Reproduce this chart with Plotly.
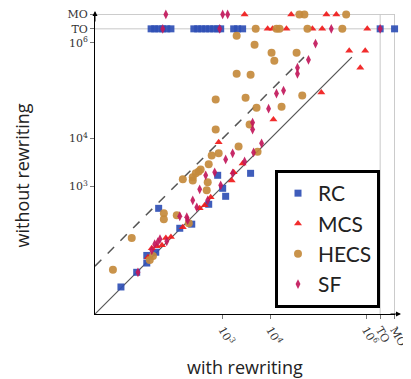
import plotly.graph_objects as go

TO = 1.95e6
MO = 3.9e6

# RC
rc_x = [32, 38, 46, 56, 68, 83, 250, 301, 365, 442, 536, 650, 787, 909, 1700, 2050, 2610, TO, MO,
        787, 3830, 1000, 1155, 511, 46, 127, 226, 40, 26, 26, 16, 7.5]
rc_y = [TO, TO, TO, TO, TO, TO, TO, TO, TO, TO, TO, TO, TO, TO, TO, TO, TO, TO, TO,
        1700, 1870, 909, 619, 422, 347, 133, 162, 42, 36, 25, 16, 7.9]

# MCS
mcs_x = [2870, 2.7e4, 1.47e5, 2.37e5,
         8.7e3, 1.1e4, 2.15e4, 7.5e4, 1.2e5, 1.05e6,
         4.4e5, 9.5e5, 7.5e5, 1.15e5, 1.15e4, 825, 2610, 1695, 1540, 562, 331, 422,
         147, 83, 65, 33, 42, 54, 27.5]
mcs_y = [MO, MO, MO, MO,
         TO, TO, TO, TO, TO, TO,
         6.8e5, 6.8e5, 3.0e5, 9.1e4, 2.5e4, 8.3e3, 3.0e3, 1.96e3, 1.33e3, 590, 347, 402,
         140, 87, 83, 51, 56, 59, 33]

# HECS
hecs_x = [4.0e4, 5.1e4, 3.8e5,
          4.9e3, 1.33e4, 1.54e4, 5.9e4, 3.16e5,
          1960, 4640, 1.05e4, 3.5e4, 1.2e4, 1960, 3830, 715, 3010, 4.6e4, 5100, 1.7e4,
          3650, 715, 2150, 825, 590, 5360, 511, 347, 316, 274, 237, 237, 147, 487, 464,
          59, 59, 110, 196, 12.6, 35, 30, 5.1]
hecs_y = [MO, MO, MO,
          TO, TO, TO, TO, TO,
          1.4e6, 9.1e5, 6.2e5, 6.2e5, 4.2e5, 2.25e5, 2.15e5, 6.5e4, 7.1e4, 7.9e4, 4.4e4, 4.6e4,
          1.96e4, 1.54e4, 6.8e3, 4.9e3, 4.4e3, 5.3e3, 2.9e3, 2.26e3, 2.05e3, 1.87e3, 1.54e3, 1.33e3, 1.4e3, 1.21e3, 825,
          274, 205, 249, 170, 83, 35, 29, 18]

# SF
sf_x = [65, 1000, 1270,
        56, 866, 1.86e5, TO,
        8.7e4, 6.2e4, 3.65e4, 3.65e4, 1.87e4, 1.33e4, 9100, 4220, 4220, 6500, 1615, 4420,
        1155, 2870, 681, 442, 1615, 909, 331, 237, 487, 288, 127, 178, 185, 68, 49, 44, 38, 33, 17]
sf_y = [MO, MO, MO,
        TO, TO, TO, TO,
        9.6e5, 4.4e5, 3.0e5, 2.25e5, 1.0e5, 8.7e4, 4.2e4, 2.15e4, 1.54e4, 7.9e3, 4.9e3, 5.1e3,
        3.65e3, 3.3e3, 1.96e3, 1.7e3, 1.87e3, 1.05e3, 866, 511, 511, 365, 237, 226, 196, 71, 79, 68, 62, 46, 16]

diag_x = [2.15, 5.0e5]
dash_x = [2.15, 5.0e4]
dash_factor = 10

tick_vals = [1e3, 1e4, 1e6, TO, MO]
tick_text = ["10<sup>3</sup>", "10<sup>4</sup>", "10<sup>6</sup>", "TO", "MO"]

LO, HI = 0.333, 6.6

fig = go.Figure()

fig.add_trace(go.Scatter(x=diag_x, y=diag_x, mode="lines",
                         line=dict(color="#555555", width=1.2), showlegend=False, hoverinfo="skip"))
fig.add_trace(go.Scatter(x=dash_x, y=[v * dash_factor for v in dash_x], mode="lines",
                         line=dict(color="#555555", width=1.5, dash="dash"), showlegend=False, hoverinfo="skip"))

series = [
    ("RC", rc_x, rc_y, "square", "#2f4fb5", 7),
    ("MCS", mcs_x, mcs_y, "triangle-up", "#f01a1a", 7),
    ("HECS", hecs_x, hecs_y, "circle", "#c48a3c", 8),
    ("SF", sf_x, sf_y, "diamond-tall", "#c2185b", 7),
]
for name, xs, ys, sym, col, sz in series:
    fig.add_trace(go.Scatter(x=xs, y=ys, mode="markers", name=name, cliponaxis=False,
                             marker=dict(symbol=sym, color=col, size=sz, opacity=0.92,
                                         line=dict(width=0))))

grey = "#c8c8c8"
shapes = [
    dict(type="line", xref="paper", yref="y", x0=0, x1=1, y0=TO, y1=TO, line=dict(color=grey, width=1), layer="below"),
    dict(type="line", xref="paper", yref="y", x0=0, x1=1, y0=MO, y1=MO, line=dict(color=grey, width=1), layer="below"),
    dict(type="line", xref="x", yref="paper", x0=TO, x1=TO, y0=0, y1=1, line=dict(color=grey, width=1), layer="below"),
    dict(type="line", xref="x", yref="paper", x0=MO, x1=MO, y0=0, y1=1, line=dict(color=grey, width=1), layer="below"),
]

axis_common = dict(type="log", range=[LO, HI], tickvals=tick_vals, ticktext=tick_text,
                   showgrid=False, zeroline=False, showline=True, linecolor="black", linewidth=1,
                   ticks="outside", ticklen=4, tickcolor="#777777", automargin=False,
                   tickfont=dict(family="DejaVu Serif", size=11, color="#333333"))

title_font = dict(family="Open Sans", size=18, color="#222222")

fig.update_layout(
    width=403, height=371,
    margin=dict(l=87, r=16, t=6, b=65),
    paper_bgcolor="white", plot_bgcolor="white",
    shapes=shapes,
    xaxis=dict(**axis_common, tickangle=60),
    yaxis=dict(**axis_common),
    legend=dict(x=0.95, y=0.02, xanchor="right", yanchor="bottom",
                bordercolor="black", borderwidth=3, bgcolor="white",
                font=dict(family="Lato", size=21, color="#222222"),
                itemsizing="trace"),
    annotations=[
        dict(xref="paper", yref="paper", x=1.02, y=0, ax=-12, ay=0, text="", showarrow=True,
             arrowhead=2, arrowsize=1, arrowwidth=1, arrowcolor="black"),
        dict(xref="paper", yref="paper", x=0, y=1.01, ax=0, ay=12, text="", showarrow=True,
             arrowhead=2, arrowsize=1, arrowwidth=1, arrowcolor="black"),
        dict(xref="paper", yref="paper", x=0.5, y=-0.175, text="with rewriting", showarrow=False,
             font=title_font, xanchor="center", yanchor="middle"),
        dict(xref="paper", yref="paper", x=-0.245, y=0.46, text="without rewriting", showarrow=False,
             font=title_font, textangle=-90, xanchor="center", yanchor="middle"),
    ],
)

fig.write_html("out.html")
